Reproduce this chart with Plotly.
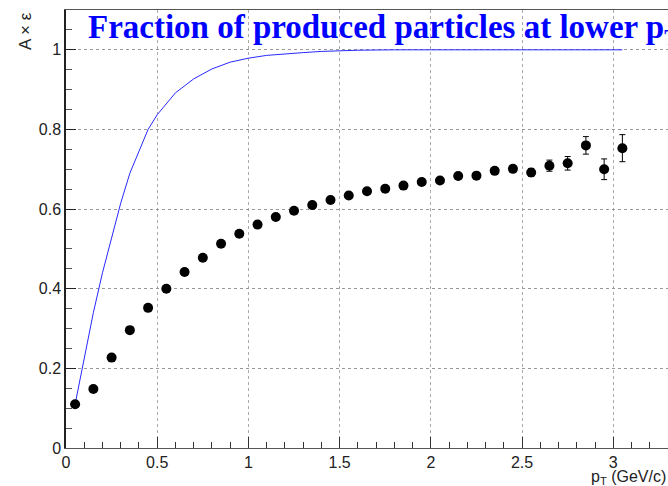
import plotly.graph_objects as go

# Data points (black markers)
pt = [0.05, 0.15, 0.25, 0.35, 0.45, 0.55, 0.65, 0.75, 0.85, 0.95,
      1.05, 1.15, 1.25, 1.35, 1.45, 1.55, 1.65, 1.75, 1.85, 1.95,
      2.05, 2.15, 2.25, 2.35, 2.45, 2.55, 2.65, 2.75, 2.85, 2.95, 3.05]
acc_eff = [0.110, 0.148, 0.227, 0.296, 0.352, 0.400, 0.442, 0.478, 0.513, 0.538,
           0.561, 0.580, 0.596, 0.610, 0.623, 0.634, 0.645, 0.651, 0.659, 0.668,
           0.672, 0.683, 0.684, 0.696, 0.701, 0.692, 0.709, 0.715, 0.760, 0.700, 0.753]
acc_err = [0.003, 0.003, 0.003, 0.003, 0.003, 0.003, 0.003, 0.003, 0.003, 0.003,
           0.003, 0.003, 0.003, 0.003, 0.004, 0.004, 0.004, 0.004, 0.005, 0.005,
           0.005, 0.005, 0.006, 0.006, 0.007, 0.010, 0.014, 0.017, 0.022, 0.026, 0.034]

# Fraction curve (blue)
curve_x = [0.05, 0.10, 0.15, 0.20, 0.25, 0.30, 0.35, 0.40, 0.45, 0.50, 0.55, 0.60,
           0.70, 0.80, 0.90, 1.00, 1.10, 1.20, 1.30, 1.40, 1.50, 1.60, 1.80, 2.00,
           2.50, 3.05]
curve_y = [0.110, 0.230, 0.340, 0.440, 0.530, 0.615, 0.690, 0.745, 0.800, 0.837, 0.866, 0.892,
           0.927, 0.952, 0.969, 0.979, 0.986, 0.990, 0.993, 0.996, 0.998, 0.999, 1.000, 1.000,
           1.000, 1.000]

title_text = "<b>Fraction of produced particles at lower p<sub>T</sub></b>"
x_title = "p<sub>T</sub> (GeV/c)"
y_title = "A × ε"

fig = go.Figure()
fig.add_trace(go.Scatter(
    x=curve_x, y=curve_y, mode="lines",
    line=dict(color="rgb(40,40,255)", width=1),
    showlegend=False, hoverinfo="skip"))
fig.add_trace(go.Scatter(
    x=pt, y=acc_eff, mode="markers",
    marker=dict(color="black", size=10),
    error_y=dict(type="data", array=acc_err, color="black", thickness=1, width=3),
    showlegend=False))

tickfont = dict(family="Liberation Sans, Arial, sans-serif", size=16, color="#222")
fig.update_layout(
    width=668, height=486,
    margin=dict(l=66, r=0, t=10, b=38),
    paper_bgcolor="white", plot_bgcolor="white",
    xaxis=dict(range=[0, 3.3], dtick=0.5, tick0=0,
               ticks="inside", ticklen=11, tickcolor="#333", tickwidth=1,
               minor=dict(dtick=0.1, ticks="inside", ticklen=6, tickcolor="#333", showgrid=False),
               showline=True, linecolor="#555", linewidth=1, mirror=True,
               showgrid=True, gridcolor="#aaa", griddash="dot", gridwidth=1,
               zeroline=False, tickfont=tickfont, tickformat="~g"),
    yaxis=dict(range=[0, 1.1], dtick=0.2, tick0=0,
               ticks="inside", ticklen=10, tickcolor="#222", tickwidth=1,
               minor=dict(dtick=0.05, ticks="inside", ticklen=6, tickcolor="#555", showgrid=False),
               showline=True, linecolor="#222", linewidth=1.5, mirror=False,
               showgrid=True, gridcolor="#999", griddash="dot", gridwidth=1,
               zeroline=False, tickfont=tickfont, tickformat="~g"),
)

fig.add_annotation(
    text=title_text, xref="paper", yref="paper", x=(86 - 66) / 602, y=1.006,
    xanchor="left", yanchor="top", showarrow=False,
    font=dict(family="Liberation Serif, Times New Roman, serif", size=33, color="#0000ff"))
fig.add_annotation(
    text=x_title, xref="x", yref="paper", x=2.866, y=-0.04,
    xanchor="left", yanchor="top", showarrow=False,
    font=dict(family="Liberation Sans, Arial, sans-serif", size=16, color="#222"))
fig.add_annotation(
    text=y_title, xref="paper", yref="paper", x=-0.068, y=1.0,
    xanchor="center", yanchor="top", textangle=-90, showarrow=False,
    font=dict(family="Liberation Sans, Arial, sans-serif", size=17, color="#222"))

fig.write_html("out.html")
